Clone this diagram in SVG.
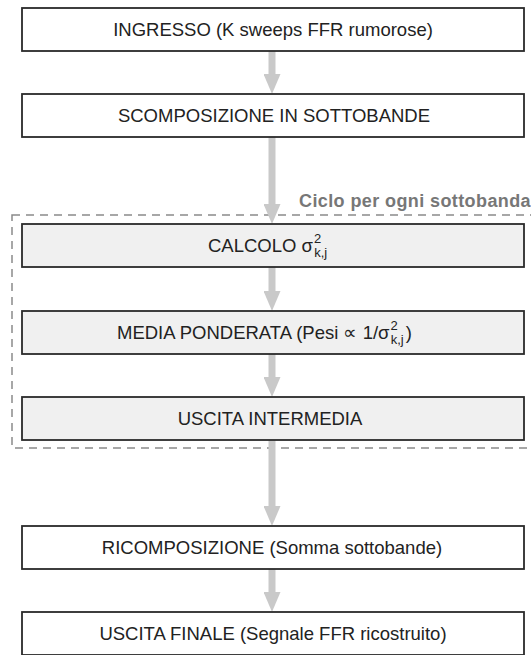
<svg xmlns="http://www.w3.org/2000/svg" width="531" height="655" viewBox="0 0 531 655">
<defs>
<style>
.box{fill:#ffffff;stroke:#2a2a2a;stroke-width:1.8}
.box.in{fill:#f0f0f0}
.t{font-family:"Liberation Sans",Arial,sans-serif;font-size:18.5px;fill:#222;text-anchor:middle}
.st{text-anchor:start}
.s{font-size:13px}
.cn line{stroke:#c9c9c9;stroke-width:7;marker-end:url(#ah)}
.loop{fill:none;stroke:#8a8a8a;stroke-width:1.5;stroke-dasharray:8 6}
.lbl{font-family:"Liberation Sans",Arial,sans-serif;font-size:18px;font-weight:bold;fill:#777;letter-spacing:0.4px}
</style>
<marker id="ah" viewBox="0 0 20 17" refX="6" refY="8.5" markerWidth="20" markerHeight="17" markerUnits="userSpaceOnUse" orient="auto">
<path d="M0,0 L20,8.5 L0,17 z" fill="#c9c9c9"/>
</marker>
</defs>
<rect width="531" height="655" fill="#ffffff"/>
<g id="loop">
<rect class="loop" x="12" y="215" width="540" height="233"/>
<text class="lbl" x="299" y="207">Ciclo per ogni sottobanda</text>
</g>
<g id="connectors" class="cn">
<line x1="272" y1="51" x2="272" y2="80"/>
<line x1="272" y1="137" x2="272" y2="210"/>
<line x1="272" y1="267" x2="272" y2="297"/>
<line x1="272" y1="353" x2="272" y2="383"/>
<line x1="272" y1="440" x2="272" y2="512"/>
<line x1="272" y1="569" x2="272" y2="598"/>
</g>
<g id="n1">
<rect class="box" x="22" y="8" width="502" height="43"/>
<text class="t" x="273" y="36">INGRESSO (K sweeps FFR rumorose)</text>
</g>
<g id="n2">
<rect class="box" x="22" y="94" width="502" height="43"/>
<text class="t" x="274" y="122">SCOMPOSIZIONE IN SOTTOBANDE</text>
</g>
<g id="n3">
<rect class="box in" x="22" y="224" width="502" height="43"/>
<text class="t st" x="208" y="252">CALCOLO σ<tspan class="s" dx="1" dy="-9">2</tspan><tspan class="s" dx="-7" dy="14">k,j</tspan></text>
</g>
<g id="n4">
<rect class="box in" x="22" y="311" width="502" height="43"/>
<text class="t st" x="117" y="339">MEDIA PONDERATA (Pesi ∝ 1/σ<tspan class="s" dx="1" dy="-9">2</tspan><tspan class="s" dx="-7" dy="14">k,j</tspan><tspan dx="2" dy="-5">)</tspan></text>
</g>
<g id="n5">
<rect class="box in" x="22" y="397" width="502" height="43"/>
<text class="t" x="270" y="425">USCITA INTERMEDIA</text>
</g>
<g id="n6">
<rect class="box" x="22" y="526" width="502" height="43"/>
<text class="t" x="272" y="554">RICOMPOSIZIONE (Somma sottobande)</text>
</g>
<g id="n7">
<rect class="box" x="22" y="612" width="502" height="43"/>
<text class="t" x="273" y="640">USCITA FINALE (Segnale FFR ricostruito)</text>
</g>
</svg>
